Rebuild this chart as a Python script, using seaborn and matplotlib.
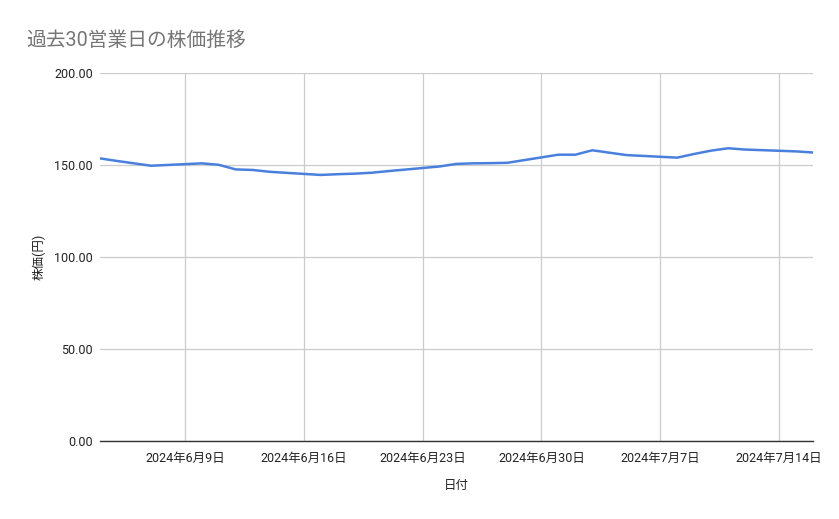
import matplotlib
matplotlib.use("Agg")
import matplotlib.pyplot as plt
import matplotlib.dates as mdates
import seaborn as sns
import pandas as pd
import numpy as np

dates = ["2024-06-04", "2024-06-05", "2024-06-06", "2024-06-07",
         "2024-06-10", "2024-06-11", "2024-06-12", "2024-06-13", "2024-06-14",
         "2024-06-17", "2024-06-18", "2024-06-19", "2024-06-20", "2024-06-21",
         "2024-06-24", "2024-06-25", "2024-06-26", "2024-06-27", "2024-06-28",
         "2024-07-01", "2024-07-02", "2024-07-03", "2024-07-05",
         "2024-07-08", "2024-07-09", "2024-07-10", "2024-07-11", "2024-07-12",
         "2024-07-15", "2024-07-16"]
prices = [153.6, 152.2, 150.9, 149.6,
          150.9, 150.1, 147.6, 147.3, 146.3,
          144.6, 145.0, 145.3, 145.8, 146.7,
          149.2, 150.6, 150.9, 151.0, 151.2,
          155.6, 155.6, 158.0, 155.4,
          154.0, 156.0, 157.8, 159.1, 158.4,
          157.4, 156.8]
tick_dates = ["2024-06-09", "2024-06-16", "2024-06-23", "2024-06-30", "2024-07-07", "2024-07-14"]
tick_labels = ["2024年6月9日", "2024年6月16日", "2024年6月23日", "2024年6月30日", "2024年7月7日", "2024年7月14日"]
y_ticks = [0, 50, 100, 150, 200]

title = "過去30営業日の株価推移"
xlabel = "日付"
ylabel = "株価(円)"

sns.set_style("white")
plt.rcParams['font.family'] = ['Roboto', 'Noto Sans CJK JP', 'DejaVu Sans']

df = pd.DataFrame({"date": pd.to_datetime(dates), "price": prices})

fig = plt.figure(figsize=(8.39, 5.19), dpi=100)
ax = fig.add_axes([100/839, 1-441/519, 713/839, 368/519])

sns.lineplot(data=df, x="date", y="price", ax=ax, color="#4a80dd", linewidth=1.8)

ax.set_xlim(pd.Timestamp("2024-06-04"), pd.Timestamp("2024-07-16"))
ax.set_ylim(0, 200)
ax.set_yticks(y_ticks)
ax.set_yticklabels([f"{v:.2f}" for v in y_ticks])
ax.set_xticks(pd.to_datetime(tick_dates))
ax.set_xticklabels(tick_labels)

ax.grid(True, color="#cccccc", linewidth=0.9)
ax.set_axisbelow(True)
for s in ["top", "right", "left"]:
    ax.spines[s].set_visible(False)
ax.spines["bottom"].set_color("#333333")
ax.spines["bottom"].set_linewidth(1.0)
ax.spines["bottom"].set_zorder(3)
ax.tick_params(axis="both", length=0, labelsize=9, colors="#222222")
ax.tick_params(axis="x", pad=8)
ax.tick_params(axis="y", pad=5)

ax.set_xlabel(xlabel, fontsize=9, color="#222222", labelpad=10)
ax.set_ylabel(ylabel, fontsize=9, color="#222222", labelpad=6)

fig.text(26/839, 1-40/519, title, fontsize=14.2, color="#757575", va="center", ha="left")

fig.savefig("out.png", dpi=100)
